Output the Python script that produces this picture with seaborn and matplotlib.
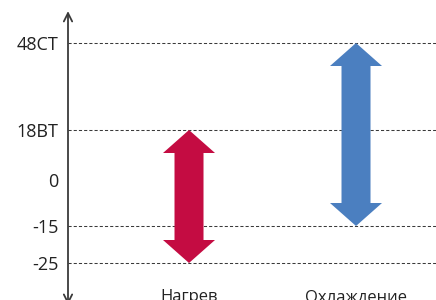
import numpy as np
import matplotlib
matplotlib.use("Agg")
import matplotlib.pyplot as plt
from matplotlib.patches import Polygon
from matplotlib.transforms import IdentityTransform
import seaborn as sns

# data
categories = ["Нагрев", "Охлаждение"]
low = [-25, -15]
high = [18, 48]
colors = ["#C40C42", "#4B7FC0"]
tick_values = [48, 18, 0, -15, -25]
tick_labels = ["48СТ", "18ВТ", "0", "-15", "-25"]
grid_values = [48, 18, -15, -25]

# non-linear axis: tick values placed at fixed slots
scale_vals = [-25, -15, 0, 18, 48]
scale_slots = [0, 37, 83, 133, 220]


def fwd(v):
    return np.interp(v, scale_vals, scale_slots)


def inv(s):
    return np.interp(s, scale_slots, scale_vals)


sns.set_theme(style="white")
plt.rcParams["font.family"] = ["Open Sans", "DejaVu Sans"]
text_color = "#222222"
line_color = "#3a3a3a"

fig = plt.figure(figsize=(4.36, 3.0), dpi=100)
ax = fig.add_axes([68 / 436, 37 / 300, 368 / 436, 220 / 300])
ax.set_yscale("function", functions=(fwd, inv))
ax.set_ylim(-25, 48)
ax.set_xlim(-0.7246, 1.479)
sns.despine(ax=ax, left=True, bottom=True, right=True, top=True)

for g in grid_values:
    ax.axhline(g, color=line_color, lw=0.75, ls=(0, (3, 2)), zorder=1, clip_on=False)

ax.set_yticks(tick_values)
ax.set_yticklabels(tick_labels)
ax.set_xticks(range(len(categories)))
ax.set_xticklabels(categories)
ax.tick_params(axis="y", length=0, pad=7, labelsize=13, labelcolor=text_color)
ax.tick_params(axis="x", length=0, pad=18.5, labelsize=12, labelcolor=text_color)

# vertical axis with open arrow heads
ax.annotate("", xy=(0, 1.145), xytext=(0, -0.19), xycoords="axes fraction",
            textcoords="axes fraction", annotation_clip=False,
            arrowprops=dict(arrowstyle="<->,head_length=0.5,head_width=0.25",
                            color=line_color, lw=1.3, shrinkA=0, shrinkB=0))

# double-headed block arrows, built in pixel space from the data
head_half = 26
shaft_half = 14.5
head_len = 23
for i, (lo, hi, c) in enumerate(zip(low, high, colors)):
    x0, y_lo = ax.transData.transform((i, lo))
    _, y_hi = ax.transData.transform((i, hi))
    pts = [
        (x0, y_hi),
        (x0 + head_half, y_hi - head_len),
        (x0 + shaft_half, y_hi - head_len),
        (x0 + shaft_half, y_lo + head_len),
        (x0 + head_half, y_lo + head_len),
        (x0, y_lo),
        (x0 - head_half, y_lo + head_len),
        (x0 - shaft_half, y_lo + head_len),
        (x0 - shaft_half, y_hi - head_len),
        (x0 - head_half, y_hi - head_len),
    ]
    ax.add_artist(Polygon(pts, closed=True, facecolor=c, edgecolor="none",
                          transform=IdentityTransform(), zorder=3))

fig.savefig("out.png", dpi=100)
